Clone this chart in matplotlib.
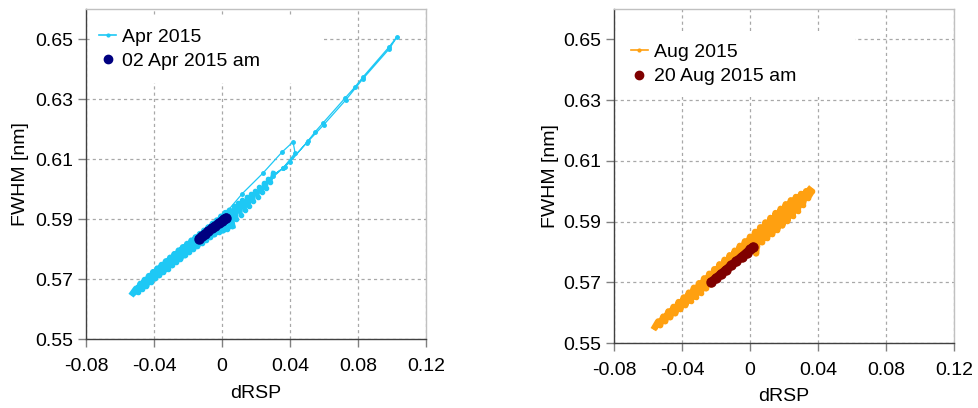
import matplotlib
matplotlib.use("Agg")
import matplotlib.pyplot as plt
from matplotlib.lines import Line2D
from matplotlib.patches import Rectangle

plt.rcParams['font.family'] = ['Liberation Sans', 'DejaVu Sans']

# ---------------- data ----------------
x_ticks = [-0.08, -0.04, 0, 0.04, 0.08, 0.12]
x_tick_labels = ["-0.08", "-0.04", "0", "0.04", "0.08", "0.12"]
y_ticks = [0.55, 0.57, 0.59, 0.61, 0.63, 0.65]
y_tick_labels = ["0.55", "0.57", "0.59", "0.61", "0.63", "0.65"]

apr_label = "Apr 2015"
# dense part of the April cloud
apr_core_x = [-0.0524, -0.0505, -0.0495, -0.0480, -0.0470, -0.0455, -0.0445, -0.0430, -0.0420,
              -0.0405, -0.0395, -0.0380, -0.0370, -0.0355, -0.0345, -0.0330, -0.0320, -0.0305,
              -0.0295, -0.0280, -0.0270, -0.0255, -0.0245, -0.0230, -0.0220, -0.0205, -0.0195,
              -0.0180, -0.0170, -0.0155, -0.0145, -0.0130, -0.0120, -0.0105, -0.0095, -0.0080,
              -0.0070, -0.0055, -0.0045, -0.0030, -0.0020, -0.0005, 0.0005, 0.0020, 0.0030,
              0.0045, 0.0060]
apr_core_y = [0.5653, 0.5668, 0.5657, 0.5684, 0.5667, 0.5697, 0.5678, 0.5710, 0.5690,
              0.5723, 0.5702, 0.5735, 0.5713, 0.5747, 0.5724, 0.5759, 0.5735, 0.5771,
              0.5746, 0.5783, 0.5757, 0.5795, 0.5768, 0.5806, 0.5779, 0.5817, 0.5790,
              0.5828, 0.5800, 0.5839, 0.5810, 0.5850, 0.5820, 0.5861, 0.5830, 0.5872,
              0.5840, 0.5884, 0.5849, 0.5895, 0.5857, 0.5908, 0.5862, 0.5920, 0.5868,
              0.5928, 0.5878]
# scattered part above x = 0
apr_spread_x = [0.0060, 0.0070, 0.0085, 0.0095, 0.0110, 0.0120, 0.0135, 0.0145, 0.0160,
                0.0170, 0.0185, 0.0195, 0.0210, 0.0220, 0.0235, 0.0245, 0.0260, 0.0270,
                0.0285, 0.0300]
apr_spread_y = [0.5878, 0.5942, 0.5900, 0.5955, 0.5915, 0.5965, 0.5930, 0.5975, 0.5945,
                0.5985, 0.5960, 0.5995, 0.5975, 0.6008, 0.5990, 0.6020, 0.6005, 0.6035,
                0.6022, 0.6055]
# thin branches
apr_branch_x = [0.0030, 0.0120, 0.0241, 0.0353, 0.0418, 0.0430, 0.0360, 0.0300, 0.0360,
                0.0400, 0.0506, 0.0547, 0.0594, 0.0724, 0.0782, 0.0829, 0.0982, 0.1029,
                0.0985, 0.0830, 0.0730, 0.0600, 0.0500, 0.0370, 0.0250]
apr_branch_y = [0.5925, 0.5985, 0.6053, 0.6123, 0.6157, 0.6120, 0.6070, 0.6045, 0.6070,
                0.6090, 0.6160, 0.6190, 0.6220, 0.6303, 0.6340, 0.6373, 0.6473, 0.6507,
                0.6468, 0.6368, 0.6298, 0.6215, 0.6155, 0.6075, 0.6015]

apr_day_label = "02 Apr 2015 am"
apr_day_x = [-0.0135, -0.0120, -0.0100, -0.0080, -0.0060, -0.0040, -0.0020, 0.0000, 0.0010, 0.0025]
apr_day_y = [0.5835, 0.5842, 0.5851, 0.5860, 0.5869, 0.5877, 0.5886, 0.5894, 0.5899, 0.5905]

aug_label = "Aug 2015"
aug_x = [-0.0559, -0.054, -0.053, -0.051, -0.050, -0.048, -0.047, -0.045, -0.044,
         -0.042, -0.041, -0.039, -0.038, -0.036, -0.035, -0.033, -0.032, -0.030, -0.029,
         -0.027, -0.026, -0.024, -0.023, -0.021, -0.020, -0.018, -0.017, -0.015, -0.014,
         -0.012, -0.011, -0.009, -0.008, -0.006, -0.005, -0.003, -0.002, 0.000, 0.001,
         0.003, 0.0035, 0.004, 0.006, 0.007, 0.009, 0.010, 0.012, 0.013, 0.015, 0.016,
         0.018, 0.019, 0.021, 0.022, 0.024, 0.025, 0.027, 0.028, 0.030, 0.031, 0.033,
         0.034, 0.0363, 0.035]
aug_y = [0.5553, 0.5571, 0.5559, 0.5587, 0.5572, 0.5604, 0.5585, 0.5619, 0.5598,
         0.5635, 0.5612, 0.5650, 0.5625, 0.5666, 0.5639, 0.5682, 0.5652, 0.5697, 0.5666,
         0.5713, 0.5680, 0.5728, 0.5693, 0.5743, 0.5708, 0.5759, 0.5721, 0.5774, 0.5735,
         0.5789, 0.5750, 0.5804, 0.5763, 0.5820, 0.5777, 0.5835, 0.5790, 0.5850, 0.5805,
         0.5866, 0.5795, 0.5818, 0.5881, 0.5832, 0.5897, 0.5846, 0.5912, 0.5859, 0.5928, 0.5873,
         0.5942, 0.5887, 0.5957, 0.5902, 0.5970, 0.5919, 0.5981, 0.5936, 0.5991, 0.5956, 0.6000,
         0.5978, 0.5999, 0.6005]

aug_day_label = "20 Aug 2015 am"
aug_day_x = [-0.0229, -0.0200, -0.0170, -0.0140, -0.0110, -0.0080, -0.0050, -0.0020, 0.0000, 0.0018]
aug_day_y = [0.5701, 0.5714, 0.5728, 0.5742, 0.5756, 0.5770, 0.5784, 0.5798, 0.5808, 0.5817]

C_APR = "#1EC8F5"
C_APR_DAY = "#000080"
C_AUG = "#FFA010"
C_AUG_DAY = "#7F0000"

fig = plt.figure(figsize=(9.79, 4.08), dpi=100)
ax1 = fig.add_axes([86/979, 69/408, 340/979, 330/408])
ax2 = fig.add_axes([614/979, 65/408, 340/979, 334/408])

FS = 14


def style(ax, rect, leg_anchor, lab, dlab, c, cday, ylab_x, xlab_y):
    ax.set_xlim(-0.08, 0.12)
    ax.set_ylim(0.55, 0.66)
    ax.set_xticks(x_ticks)
    ax.set_xticklabels(x_tick_labels, fontsize=FS)
    ax.set_yticks(y_ticks)
    ax.set_yticklabels(y_tick_labels, fontsize=FS)
    ax.tick_params(direction='out', length=6, width=1, color='#808080', pad=3)
    ax.tick_params(axis='x', pad=8)
    for s in ['left', 'bottom']:
        ax.spines[s].set_color('#404040')
        ax.spines[s].set_linewidth(1)
    for s in ['top', 'right']:
        ax.spines[s].set_color('#C0C0C0')
        ax.spines[s].set_linewidth(1)
    ax.grid(True, color='#A8A8A8', linestyle=(0, (2.5, 2.5)), linewidth=0.9, zorder=0)
    ax.set_axisbelow(True)
    ax.add_patch(Rectangle((rect[0], rect[1]), rect[2], rect[3], transform=ax.transAxes,
                           facecolor='white', edgecolor='none', zorder=1.5))
    ax.set_xlabel("dRSP", fontsize=FS)
    ax.set_ylabel("FWHM [nm]", fontsize=FS)
    ax.yaxis.set_label_coords(ylab_x, 0.5)
    ax.xaxis.set_label_coords(0.5, xlab_y)
    h1 = Line2D([], [], color=c, lw=1.2, marker='o', ms=2)
    h2 = Line2D([], [], color=cday, lw=0, marker='o', ms=6)
    ax.legend([h1, h2], [lab, dlab], loc='upper left', bbox_to_anchor=leg_anchor,
              frameon=False, fontsize=FS, borderpad=0, borderaxespad=0,
              handlelength=0.9, handletextpad=0.3, labelspacing=0.35)


# left panel
ax1.plot(apr_core_x, apr_core_y, color=C_APR, lw=4.6, marker='o', ms=3, zorder=3)
ax1.plot(apr_spread_x, apr_spread_y, color=C_APR, lw=2.4, marker='o', ms=3, zorder=3)
ax1.plot(apr_branch_x, apr_branch_y, color=C_APR, lw=0.9, marker='o', ms=2.5, zorder=3)
ax1.plot(apr_day_x, apr_day_y, color=C_APR_DAY, lw=6, marker='o', ms=6.5,
         solid_capstyle='round', zorder=4)
style(ax1, (0.012, 0.776, 0.682, 0.206), (0.038, 0.942), apr_label, apr_day_label,
      C_APR, C_APR_DAY, -0.168, -0.139)

# right panel
ax2.plot(aug_x, aug_y, color=C_AUG, lw=4.6, marker='o', ms=3, zorder=3)
ax2.plot(aug_day_x, aug_day_y, color=C_AUG_DAY, lw=6, marker='o', ms=6.5,
         solid_capstyle='round', zorder=4)
style(ax2, (0.0, 0.737, 0.71, 0.194), (0.049, 0.897), aug_label, aug_day_label,
      C_AUG, C_AUG_DAY, -0.162, -0.135)

fig.savefig("out.png", dpi=100)
